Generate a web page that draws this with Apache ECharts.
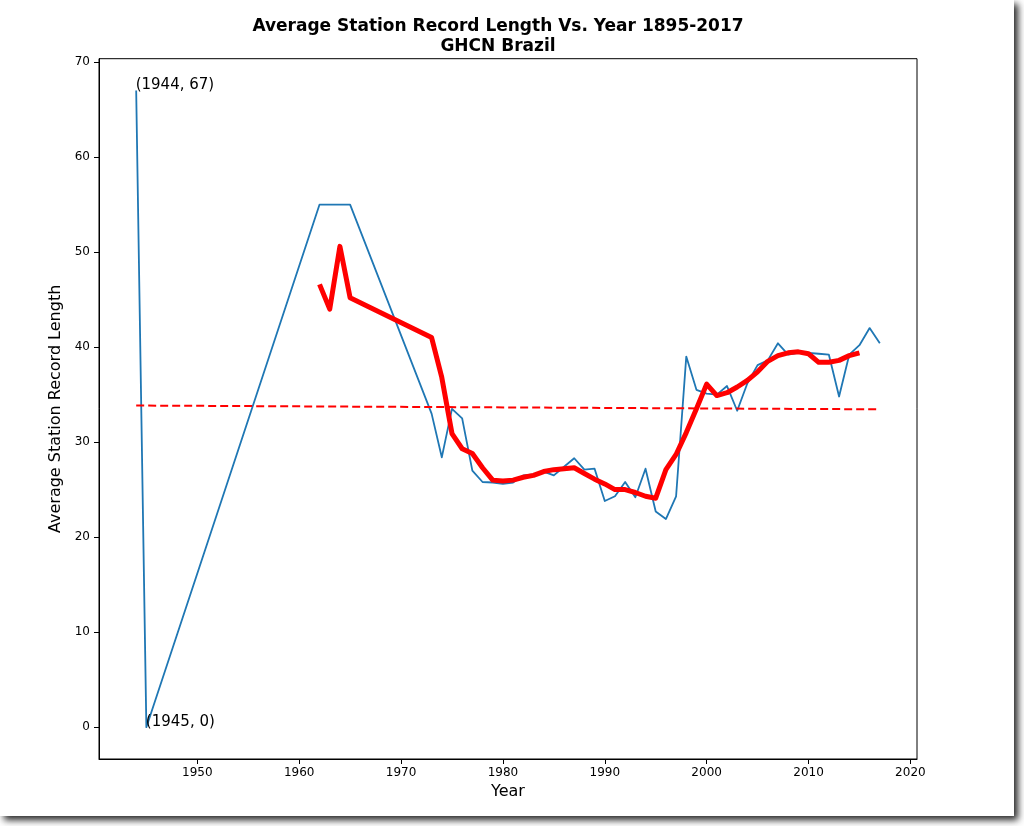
<!DOCTYPE html>
<html>
<head>
<meta charset="utf-8">
<script src="https://cdn.jsdelivr.net/npm/echarts@6/dist/echarts.min.js"></script>
<style>
html,body{margin:0;padding:0;background:#fff;}
#chart{width:1024px;height:826px;}
</style>
</head>
<body>
<div id="chart"></div>
<script>
// Blue: average station record length per year
var years = [1944,1945,1962,1963,1964,1965,1973,1974,1975,1976,1977,1978,1979,1980,1981,1982,1983,1984,1985,1986,1987,1988,1989,1990,1991,1992,1993,1994,1995,1996,1997,1998,1999,2000,2001,2002,2003,2004,2005,2006,2007,2008,2009,2010,2011,2012,2013,2014,2015,2016,2017];
var recordLength = [67,0,55,55,55,55,33,28.4,33.5,32.5,27.0,25.8,25.75,25.6,25.75,26.5,26.6,26.9,26.5,27.4,28.3,27.1,27.2,23.8,24.3,25.8,24.2,27.2,22.7,21.9,24.3,39.0,35.5,35.1,35.0,35.9,33.3,36.2,38.1,38.6,40.4,39.2,39.4,39.4,39.3,39.2,34.8,39.2,40.2,42.0,40.4];
// Red: smoothed series
var smoothYears = [1962,1963,1964,1965,1973,1974,1975,1976,1977,1978,1979,1980,1981,1982,1983,1984,1985,1986,1987,1988,1989,1990,1991,1992,1993,1994,1995,1996,1997,1998,1999,2000,2001,2002,2003,2004,2005,2006,2007,2008,2009,2010,2011,2012,2013,2014,2015];
var smoothValues = [46.6,44.0,50.6,45.2,41.0,36.8,30.9,29.3,28.8,27.3,26.0,25.9,26.0,26.3,26.5,26.9,27.1,27.2,27.3,26.7,26.1,25.6,25.0,25.0,24.7,24.3,24.1,27.1,28.7,31.0,33.5,36.1,34.9,35.2,35.8,36.5,37.4,38.5,39.1,39.4,39.5,39.3,38.4,38.4,38.6,39.1,39.4];
// Red dashed: linear trend
var trendYears = [1944,2017];
var trendValues = [33.85,33.45];
// Ticks
var xTicks = [1950,1960,1970,1980,1990,2000,2010,2020];
var yTicks = [0,10,20,30,40,50,60,70];
// Annotations
var annotations = [[1944,67,'(1944, 67)'],[1945,0,'(1945, 0)']];

function pairs(xs, ys){ return xs.map(function(x,i){ return [x, ys[i]]; }); }

var font = 'DejaVu Sans';
var chart = echarts.init(document.getElementById('chart'));
chart.setOption({
  backgroundColor: '#fff',
  animation: false,
  graphic: [{
    type: 'rect', z: -10,
    shape: {x: 0, y: 0, width: 1014, height: 816},
    style: {fill: '#fff', shadowBlur: 7, shadowOffsetX: 4, shadowOffsetY: 4, shadowColor: 'rgba(0,0,0,0.85)'}
  }],
  title: {
    text: 'Average Station Record Length Vs. Year 1895-2017\nGHCN Brazil',
    left: 498, top: 17, padding: 0, textAlign: 'center',
    textStyle: {fontFamily: font, fontWeight: 'bold', fontSize: 17, lineHeight: 20, color: '#000', align: 'center'}
  },
  grid: {left: 99, right: 107, top: 58.7, bottom: 67, show: true, borderColor: '#000', borderWidth: 1, backgroundColor: 'transparent'},
  xAxis: {
    type: 'value', min: 1940.35, max: 2020.65,
    name: 'Year', nameLocation: 'middle', nameGap: 24,
    nameTextStyle: {fontFamily: font, fontSize: 16, color: '#000'},
    axisLine: {show: true, onZero: false, lineStyle: {color: '#000', width: 1}},
    axisTick: {show: true, length: 5, customValues: xTicks, lineStyle: {color: '#000'}},
    axisLabel: {customValues: xTicks, fontFamily: font, fontSize: 12, color: '#000', margin: 8,
      formatter: function(v){ return String(Math.round(v)); }},
    splitLine: {show: false}
  },
  yAxis: {
    type: 'value', min: -3.35, max: 70.35,
    name: 'Average Station Record Length', nameLocation: 'middle', nameGap: 31,
    nameTextStyle: {fontFamily: font, fontSize: 16, color: '#000'},
    axisLine: {show: true, onZero: false, lineStyle: {color: '#000', width: 1}},
    axisTick: {show: true, length: 5, customValues: yTicks, lineStyle: {color: '#000'}},
    axisLabel: {customValues: yTicks, fontFamily: font, fontSize: 12, color: '#000', margin: 9,
      formatter: function(v){ return String(Math.round(v)); }},
    splitLine: {show: false}
  },
  series: [
    {
      type: 'line', data: pairs(years, recordLength), showSymbol: false, symbol: 'none',
      lineStyle: {color: '#1f77b4', width: 1.8, join: 'round'}, z: 2,
      markPoint: {
        symbol: 'circle', symbolSize: 1, itemStyle: {color: 'rgba(0,0,0,0)'},
        label: {show: true, position: [0, 0], align: 'left', verticalAlign: 'bottom', offset: [0, 3],
          fontFamily: font, fontSize: 15, lineHeight: 16, color: '#000',
          formatter: function(p){ return p.name; }},
        data: annotations.map(function(a){ return {name: a[2], coord: [a[0], a[1]]}; })
      }
    },
    {
      type: 'line', data: pairs(trendYears, trendValues), showSymbol: false, symbol: 'none',
      lineStyle: {color: '#ff0000', width: 2, type: [8, 4]}, z: 3
    },
    {
      type: 'line', data: pairs(smoothYears, smoothValues), showSymbol: false, symbol: 'none',
      lineStyle: {color: '#ff0000', width: 5, join: 'round'}, z: 4
    }
  ]
});
</script>
</body>
</html>
